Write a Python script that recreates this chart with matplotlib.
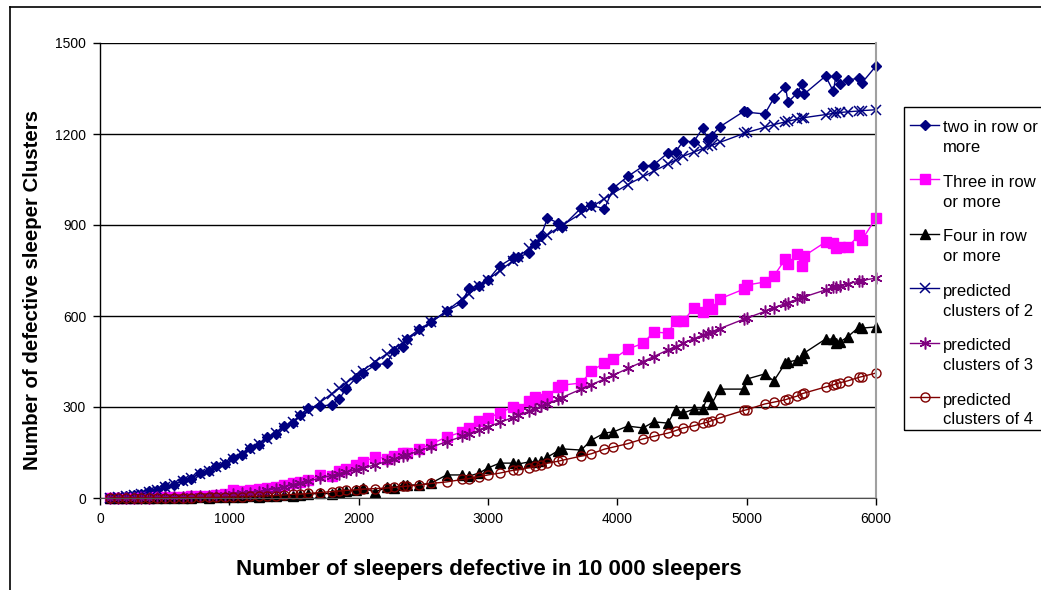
import matplotlib.pyplot as plt
from matplotlib.lines import Line2D
from matplotlib.patches import Rectangle

plt.rcParams['font.family'] = ['Liberation Sans', 'DejaVu Sans']

# shared x positions (number of defective sleepers)
defective = [80, 140, 200, 260, 320, 380, 440, 500, 570, 640, 700, 770, 840, 900, 970,
             1030, 1100, 1160, 1230, 1290, 1360, 1420, 1490, 1550, 1610, 1700, 1790, 1850,
             1900, 1980, 2030, 2130, 2220, 2270, 2340, 2370, 2470, 2560, 2680, 2800, 2850,
             2930, 3000, 3090, 3190, 3230, 3320, 3360, 3410, 3460, 3540, 3570, 3720, 3800,
             3900, 3970, 4080, 4200, 4280, 4390, 4450, 4510, 4590, 4660, 4700, 4730, 4790,
             4980, 5000, 5140, 5210, 5300, 5320, 5390, 5430, 5445, 5610, 5670, 5690, 5720,
             5780, 5870, 5890, 6000]

two_obs = [1, 2, 6, 10, 12, 22, 25, 38, 42, 60, 63, 82, 88, 105, 112,
           133, 143, 165, 176, 200, 212, 236, 248, 273, 297, 303, 307, 326,
           359, 396, 412, 438, 445, 485, 498, 524, 557, 580, 616, 643, 692,
           699, 719, 765, 791, 794, 808, 837, 864, 923, 907, 893, 956, 965,
           953, 1022, 1060, 1094, 1098, 1137, 1141, 1177, 1174, 1219, 1183, 1195, 1223,
           1275, 1272, 1266, 1318, 1355, 1305, 1335, 1364, 1332, 1391, 1341, 1391, 1364,
           1378, 1384, 1368, 1424]

three_obs = [0, 0, 1, 0, 2, 1, 3, 2, 4, 3, 6, 5, 8, 10, 12,
             26, 22, 26, 30, 33, 36, 42, 49, 53, 59, 76, 72, 89,
             96, 109, 119, 135, 130, 140, 148, 150, 162, 178, 201, 218, 231,
             254, 264, 280, 300, 295, 320, 333, 326, 336, 365, 372, 379, 419,
             445, 458, 491, 510, 547, 544, 583, 583, 626, 613, 640, 623, 656,
             689, 702, 712, 732, 788, 771, 804, 765, 798, 844, 841, 824, 827,
             827, 867, 850, 923]

four_obs = [0, 0, 0, 0, 0, 1, 0, 1, 0, 1, 1, 2, 1, 3, 2,
            4, 3, 5, 4, 7, 6, 9, 8, 10, 12, 16, 14, 20,
            22, 25, 33, 20, 36, 33, 43, 43, 43, 49, 76, 76, 72,
            82, 99, 115, 115, 112, 119, 119, 122, 135, 155, 162, 158, 191,
            214, 218, 237, 231, 251, 247, 290, 280, 293, 293, 336, 310, 359,
            359, 392, 409, 386, 445, 448, 455, 462, 478, 524, 524, 511, 514,
            531, 564, 560, 564]

two_pred = [1, 3, 5, 9, 13, 20, 27, 35, 45, 56, 66, 78, 90, 101, 115,
            129, 146, 161, 179, 195, 215, 232, 252, 270, 288, 315, 343, 362,
            378, 404, 420, 450, 476, 491, 512, 521, 551, 579, 617, 656, 672,
            698, 720, 749, 781, 794, 823, 836, 851, 867, 890, 898, 938, 959,
            987, 1006, 1033, 1060, 1077, 1101, 1114, 1127, 1140, 1152, 1159, 1163, 1172,
            1202, 1205, 1222, 1231, 1240, 1242, 1249, 1253, 1254, 1264, 1268, 1269, 1271,
            1273, 1276, 1277, 1280]

three_pred = [0, 0, 0, 1, 1, 1, 2, 2, 3, 4, 5, 6, 7, 9, 11,
              13, 15, 18, 21, 25, 31, 37, 44, 50, 56, 65, 74, 80,
              85, 93, 98, 110, 121, 127, 137, 141, 156, 168, 185, 203, 211,
              223, 235, 249, 265, 272, 286, 293, 302, 311, 325, 331, 359, 374,
              392, 405, 427, 450, 466, 488, 499, 510, 525, 537, 543, 548, 558,
              590, 593, 615, 627, 641, 644, 655, 661, 663, 686, 694, 697, 700,
              706, 715, 717, 725]

four_pred = [0, 0, 0, 0, 0, 0, 0, 1, 1, 1, 1, 2, 2, 2, 3,
             3, 4, 5, 6, 7, 8, 10, 12, 13, 15, 18, 21, 23,
             25, 27, 29, 31, 33, 35, 38, 39, 43, 48, 53, 61, 64,
             70, 76, 82, 91, 93, 100, 104, 109, 115, 121, 124, 138, 146,
             161, 168, 179, 195, 203, 214, 222, 231, 238, 246, 250, 255, 264,
             289, 291, 310, 316, 324, 327, 336, 344, 346, 366, 373, 376, 380,
             386, 398, 400, 412]

labels = [('two in row or', 'more'), ('Three in row', 'or more'), ('Four in row', 'or more'),
          ('predicted', 'clusters of 2'), ('predicted', 'clusters of 3'),
          ('predicted', 'clusters of 4')]

W, H = 1041, 590
fig = plt.figure(figsize=(W / 100, H / 100), dpi=100)
ax = fig.add_axes([100 / W, 1 - 498 / H, 776 / W, 455 / H])

asterisk = (6, 2, 0)
series = [
    (two_obs, dict(color='#000080', marker='D', ms=5.5, mfc='#000080', mec='#000080')),
    (three_obs, dict(color='#FF00FF', marker='s', ms=7, mfc='#FF00FF', mec='#FF00FF')),
    (four_obs, dict(color='black', marker='^', ms=7.5, mfc='black', mec='black')),
    (two_pred, dict(color='#000080', marker='x', ms=6.5, mew=1.1, mec='#000080')),
    (three_pred, dict(color='#800080', marker=asterisk, ms=8.5, mew=1.1, mec='#800080')),
    (four_pred, dict(color='#800000', marker='o', ms=6.5, mfc='none', mew=1.0, mec='#800000')),
]
for vals, st in series:
    ax.plot(defective, vals, lw=1.0, clip_on=False, **st)

ax.set_xlim(0, 6000)
ax.set_ylim(0, 1500)
ax.set_xticks([0, 1000, 2000, 3000, 4000, 5000, 6000])
ax.set_yticks([0, 300, 600, 900, 1200, 1500])
ax.yaxis.grid(True, color='black', lw=1.0)
ax.set_axisbelow(True)
ax.spines['top'].set_visible(False)
ax.spines['right'].set_color('#a0a0a0')
ax.spines['right'].set_linewidth(1.5)
ax.spines['left'].set_linewidth(1.0)
ax.spines['bottom'].set_color('#505050')
ax.tick_params(axis='both', direction='out', length=5, width=1, labelsize=10, pad=5)

fig.text(489 / W, 1 - 570 / H, 'Number of sleepers defective in 10 000 sleepers',
         ha='center', va='center', fontsize=16, fontweight='bold')
fig.text(33 / W, 1 - 290 / H, 'Number of defective sleeper Clusters',
         ha='center', va='center', rotation=90, fontsize=14.7, fontweight='bold')


# legend drawn by hand (Excel style: marker level with the first text line)
def fx(px):
    return px / W


def fy(py):
    return 1 - py / H


fig.add_artist(Rectangle((fx(904), fy(430)), fx(1045) - fx(904), fy(107) - fy(430),
                         transform=fig.transFigure, fill=False, ec='black', lw=1.0))
for i, ((l1, l2), (vals, st)) in enumerate(zip(labels, series)):
    y1 = 128 + 54.4 * i
    line_style = {k: v for k, v in st.items() if k != 'marker'}
    fig.add_artist(Line2D([fx(910), fx(939)], [fy(y1 - 3)] * 2, lw=1.0, **line_style))
    fig.add_artist(Line2D([fx(924.5)], [fy(y1 - 3)], lw=0, **st))
    fig.text(fx(943), fy(y1), l1, ha='left', va='center', fontsize=12)
    fig.text(fx(943), fy(y1 + 20), l2, ha='left', va='center', fontsize=12)

# outer chart border
fig.add_artist(Line2D([10 / W, 10 / W], [0, 1 - 7 / H], color='black', lw=1.2))
fig.add_artist(Line2D([10 / W, 1], [1 - 7 / H, 1 - 7 / H], color='black', lw=1.2))

plt.savefig('out.png', dpi=100)
